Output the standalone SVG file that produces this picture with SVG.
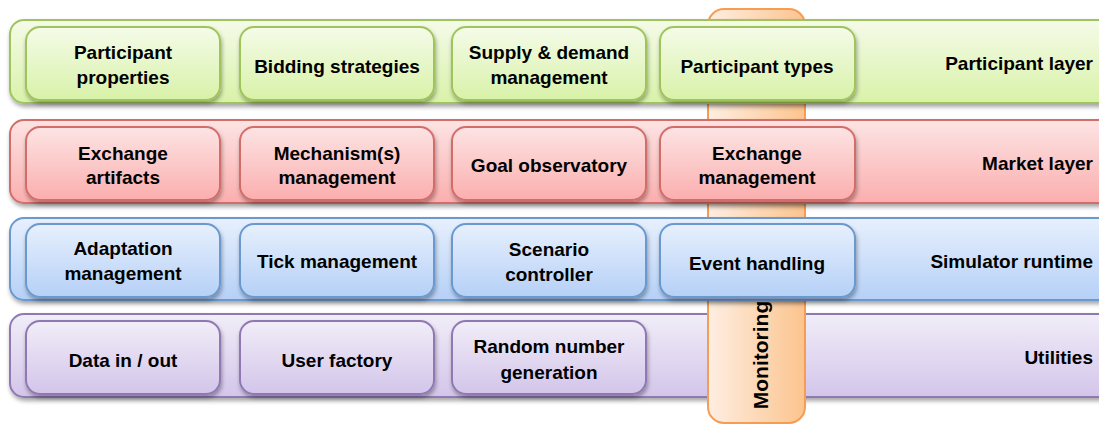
<svg xmlns="http://www.w3.org/2000/svg" width="1099" height="425" viewBox="0 0 1099 425">
<defs>
<linearGradient id="gG" x1="0" y1="0" x2="0" y2="1"><stop offset="0" stop-color="#f5fbe9"/><stop offset="1" stop-color="#d8f2a8"/></linearGradient>
<linearGradient id="gR" x1="0" y1="0" x2="0" y2="1"><stop offset="0" stop-color="#fde4e4"/><stop offset="1" stop-color="#fbaeae"/></linearGradient>
<linearGradient id="gB" x1="0" y1="0" x2="0" y2="1"><stop offset="0" stop-color="#e7f0fd"/><stop offset="1" stop-color="#b5d0f7"/></linearGradient>
<linearGradient id="gP" x1="0" y1="0" x2="0" y2="1"><stop offset="0" stop-color="#f1edf8"/><stop offset="1" stop-color="#d3c5ea"/></linearGradient>
<linearGradient id="gO" x1="0" y1="0" x2="1" y2="0"><stop offset="0" stop-color="#feeee2"/><stop offset="1" stop-color="#fcc48e"/></linearGradient>
<filter id="sh" x="-5%" y="-10%" width="110%" height="130%"><feDropShadow dx="1" dy="3" stdDeviation="2" flood-color="#000" flood-opacity="0.35"/></filter>
</defs>
<style>
text{font-family:"Liberation Sans",Arial,sans-serif;font-weight:bold;font-size:19px;fill:#000;text-anchor:middle;dominant-baseline:central}
.lbl{text-anchor:end}
.mon{font-size:21px}
.g{fill:url(#gG);stroke:#9fc45c;stroke-width:2}
.r{fill:url(#gR);stroke:#d36d6b;stroke-width:2}
.b{fill:url(#gB);stroke:#6a99cf;stroke-width:2}
.p{fill:url(#gP);stroke:#9079b3;stroke-width:2}
.layer,.box{filter:url(#sh)}
</style>
<g id="layer-utilities"><rect class="p layer" x="10" y="314" width="1105" height="83" rx="14"/><text class="lbl" x="1093" y="357">Utilities</text></g>
<g id="monitoring"><rect x="708" y="9" width="97" height="414" rx="16" fill="url(#gO)" stroke="#f59d55" stroke-width="2"/><text class="mon" transform="translate(760,355) rotate(-90)">Monitoring</text></g>
<g id="layer-participant"><rect class="g layer" x="10" y="20" width="1105" height="83" rx="14"/><text class="lbl" x="1093" y="63">Participant layer</text></g>
<g id="layer-market"><rect class="r layer" x="10" y="120" width="1105" height="83" rx="14"/><text class="lbl" x="1093" y="163">Market layer</text></g>
<g id="layer-runtime"><rect class="b layer" x="10" y="218" width="1105" height="82" rx="14"/><text class="lbl" x="1093" y="261">Simulator runtime</text></g>
<g id="n-participant-properties"><rect class="g box" x="26" y="27" width="194" height="73" rx="14"/><text x="123" y="52">Participant</text><text x="123" y="77">properties</text></g>
<g id="n-bidding-strategies"><rect class="g box" x="240" y="27" width="194" height="73" rx="14"/><text x="337" y="66">Bidding strategies</text></g>
<g id="n-supply-demand"><rect class="g box" x="452" y="27" width="194" height="73" rx="14"/><text x="549" y="52">Supply &amp; demand</text><text x="549" y="77">management</text></g>
<g id="n-participant-types"><rect class="g box" x="660" y="27" width="195" height="73" rx="14"/><text x="757" y="66">Participant types</text></g>
<g id="n-exchange-artifacts"><rect class="r box" x="26" y="127" width="194" height="73" rx="14"/><text x="123" y="153">Exchange</text><text x="123" y="177">artifacts</text></g>
<g id="n-mechanisms"><rect class="r box" x="240" y="127" width="194" height="73" rx="14"/><text x="337" y="153">Mechanism(s)</text><text x="337" y="177">management</text></g>
<g id="n-goal-observatory"><rect class="r box" x="452" y="127" width="194" height="73" rx="14"/><text x="549" y="165">Goal observatory</text></g>
<g id="n-exchange-management"><rect class="r box" x="660" y="127" width="195" height="73" rx="14"/><text x="757" y="153">Exchange</text><text x="757" y="177">management</text></g>
<g id="n-adaptation"><rect class="b box" x="26" y="224" width="194" height="73" rx="14"/><text x="123" y="248">Adaptation</text><text x="123" y="273">management</text></g>
<g id="n-tick"><rect class="b box" x="240" y="224" width="194" height="73" rx="14"/><text x="337" y="261">Tick management</text></g>
<g id="n-scenario"><rect class="b box" x="452" y="224" width="194" height="73" rx="14"/><text x="549" y="249">Scenario</text><text x="549" y="274">controller</text></g>
<g id="n-event"><rect class="b box" x="660" y="224" width="195" height="73" rx="14"/><text x="757" y="263">Event handling</text></g>
<g id="n-data"><rect class="p box" x="26" y="321" width="194" height="73" rx="14"/><text x="123" y="360">Data in / out</text></g>
<g id="n-user-factory"><rect class="p box" x="240" y="321" width="194" height="73" rx="14"/><text x="337" y="360">User factory</text></g>
<g id="n-random"><rect class="p box" x="452" y="321" width="194" height="73" rx="14"/><text x="549" y="346">Random number</text><text x="549" y="372">generation</text></g>
<g id="connectors"/>
</svg>
